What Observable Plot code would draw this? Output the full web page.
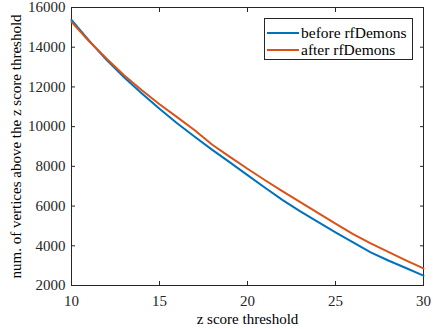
<!DOCTYPE html>
<html>
<head>
<meta charset="utf-8">
<script src="https://cdn.jsdelivr.net/npm/d3@7"></script>
<script src="https://cdn.jsdelivr.net/npm/@observablehq/plot@0.6"></script>
<style>
  html, body { margin: 0; padding: 0; background: #fff; }
  #wrap { position: relative; width: 434px; height: 329px; font-family: "Liberation Serif", "DejaVu Serif", serif; }
  #legend { position: absolute; left: 264px; top: 18px; width: 149px; height: 42px; border: 1px solid #262626; background: #fff; box-sizing: border-box; font-size: 15.5px; color: #000; }
  .item { position: absolute; left: 2px; height: 17px; display: flex; align-items: center; white-space: nowrap; }
  .sw { display: inline-block; width: 32px; height: 2px; margin-right: 2px; }
</style>
</head>
<body>
<div id="wrap"></div>
<script>
const zScores = [10, 11, 12, 13, 14, 15, 16, 17, 18, 19, 20, 21, 22, 23, 24, 25, 26, 27, 28, 29, 30];
const beforeValues = [15380, 14330, 13350, 12470, 11670, 10900, 10170, 9490, 8830, 8200, 7560, 6920, 6300, 5730, 5200, 4680, 4170, 3670, 3260, 2880, 2500];
const afterValues = [15280, 14300, 13420, 12580, 11830, 11130, 10480, 9820, 9090, 8480, 7880, 7300, 6740, 6200, 5660, 5120, 4590, 4120, 3690, 3270, 2860];
const seriesNames = ["before rfDemons", "after rfDemons"];
const seriesColors = ["#0072BD", "#D95319"];
const xTicks = [10, 15, 20, 25, 30];
const yTicks = [2000, 4000, 6000, 8000, 10000, 12000, 14000, 16000];

const rows = [];
zScores.forEach((z, i) => {
  rows.push({z, v: beforeValues[i], s: seriesNames[0]});
  rows.push({z, v: afterValues[i], s: seriesNames[1]});
});

const serif = "'Liberation Serif', serif";
const chart = Plot.plot({
  width: 434,
  height: 329,
  marginLeft: 71,
  marginRight: 11,
  marginTop: 7,
  marginBottom: 44,
  style: {fontFamily: serif, fontSize: "15px", color: "#262626"},
  x: {domain: [10, 30]},
  y: {domain: [2000, 16000]},
  color: {domain: seriesNames, range: seriesColors},
  marks: [
    Plot.frame({strokeWidth: 1}),
    Plot.axisX(xTicks, {anchor: "bottom", tickSize: -4, tickPadding: 14, label: null, fontFamily: serif, fontSize: 15, tickFormat: d => String(d)}),
    Plot.axisX(xTicks, {anchor: "top", tickSize: -4, text: null, label: null}),
    Plot.axisY(yTicks, {anchor: "left", tickSize: -4, tickPadding: 10, label: null, fontFamily: serif, fontSize: 15, tickFormat: d => String(d)}),
    Plot.axisY(yTicks, {anchor: "right", tickSize: -4, text: null, label: null}),
    Plot.line(rows, {x: "z", y: "v", stroke: "s", z: "s", strokeWidth: 2, curve: "linear"}),
    Plot.text(["z score threshold"], {frameAnchor: "bottom", lineAnchor: "middle", textAnchor: "middle", dy: 34, text: d => d, fill: "#000", fontFamily: serif, fontSize: 15}),
    Plot.text(["num. of vertices above the z score threshold"], {frameAnchor: "left", lineAnchor: "middle", textAnchor: "middle", dx: -55, rotate: -90, text: d => d, fill: "#000", fontFamily: serif, fontSize: 15})
  ]
});

const wrap = document.getElementById("wrap");
wrap.appendChild(chart);
const legend = document.createElement("div");
legend.id = "legend";
seriesNames.forEach((name, i) => {
  const item = document.createElement("div");
  item.className = "item";
  item.style.top = (5 + i * 17) + "px";
  const sw = document.createElement("span");
  sw.className = "sw";
  sw.style.background = seriesColors[i];
  item.appendChild(sw);
  item.appendChild(document.createTextNode(name));
  legend.appendChild(item);
});
wrap.appendChild(legend);
</script>
</body>
</html>
